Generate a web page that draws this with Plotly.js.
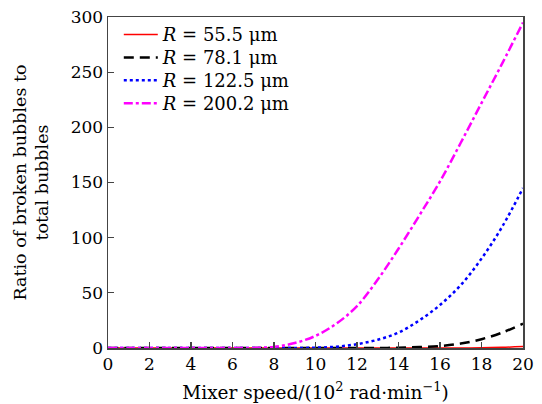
<!DOCTYPE html>
<html>
<head>
<meta charset="utf-8">
<script src="https://cdn.plot.ly/plotly-3.0.1.min.js"></script>
<style>html,body{margin:0;padding:0;background:#fff;}#chart{width:542px;height:404px;}</style>
</head>
<body>
<div id="chart"></div>
<script>
var speed = [0,1,2,3,4,5,6,7,8,9,10,11,12,13,14,15,16,17,18,19,20];
var r55 = [0,0,0,0,0,0,0,0,0,0,0,0,0,0,0,0,0,0,0.2,0.6,1.3];
var r78 = [0,0,0,0,0,0,0,0,0,0,0,0,0,0,0.3,0.8,1.8,4,8,14,22];
var r122 = [0,0,0,0,0,0,0,0,0,0,0.3,1.2,3.5,7.5,14,25,39,57,81,110,145];
var r200 = [0,0,0,0,0,0,0,0.1,1,4.5,11,22,38,62,90,120,151,186,222,258,295];
var names = ['<i>R</i> = 55.5 μm','<i>R</i> = 78.1 μm','<i>R</i> = 122.5 μm','<i>R</i> = 200.2 μm'];
var xTicks = [0,2,4,6,8,10,12,14,16,18,20];
var yTicks = [0,50,100,150,200,250,300];

var F = 'DejaVu Serif, serif';
var traces = [
  {x: speed, y: r55, name: names[0], legend: 'legend', mode: 'lines', line: {color: '#ff0000', width: 1.5, dash: 'solid', shape: 'spline'}},
  {x: speed, y: r78, name: names[1], legend: 'legend2', mode: 'lines', line: {color: '#000000', width: 2.5, dash: '10px,6px', shape: 'spline'}},
  {x: speed, y: r122, name: names[2], legend: 'legend3', mode: 'lines', line: {color: '#0000ff', width: 2.5, dash: 'dot', shape: 'spline'}},
  {x: speed, y: r200, name: names[3], legend: 'legend4', mode: 'lines', line: {color: '#ff00ff', width: 2.5, dash: '9px,3px,3px,3px', shape: 'spline'}}
];
var plotTop = 16.7, plotH = 331.8;
function leg(rowY) {
  return {x: 0.026, y: 1 - (rowY - plotTop) / plotH, xanchor: 'left', yanchor: 'middle',
          bgcolor: 'rgba(0,0,0,0)', borderwidth: 0, font: {family: F, size: 18}, itemwidth: 34};
}
var layout = {
  width: 542, height: 404,
  margin: {l: 107.5, r: 18.5, t: 16.7, b: 55.5},
  paper_bgcolor: '#fff', plot_bgcolor: '#fff',
  font: {family: F, size: 17, color: '#000'},
  showlegend: true,
  legend: leg(34.5), legend2: leg(57.5), legend3: leg(80.5), legend4: leg(103.5),
  xaxis: {
    range: [0, 20], tickvals: xTicks, ticktext: xTicks.map(String),
    showline: true, mirror: true, linecolor: '#444', linewidth: 1.5,
    ticks: 'inside', ticklen: 6, tickcolor: '#444', tickwidth: 1.2,
    showgrid: false, zeroline: false,
    tickfont: {family: F, size: 17},
    title: {text: 'Mixer speed/(10<sup>2</sup> rad·min<sup>−1</sup>)', font: {family: F, size: 18.5}, standoff: 13}
  },
  yaxis: {
    range: [0, 300], tickvals: yTicks, ticktext: yTicks.map(String),
    showline: true, mirror: true, linecolor: '#444', linewidth: 1.5,
    ticks: 'inside', ticklen: 6, tickcolor: '#444', tickwidth: 1.2,
    showgrid: false, zeroline: false,
    tickfont: {family: F, size: 17},
    title: {text: 'Ratio of broken bubbles to<br>total bubbles', font: {family: F, size: 17.5}, standoff: 17}
  }
};
Plotly.newPlot('chart', traces, layout, {displayModeBar: false, staticPlot: true});
</script>
</body>
</html>
